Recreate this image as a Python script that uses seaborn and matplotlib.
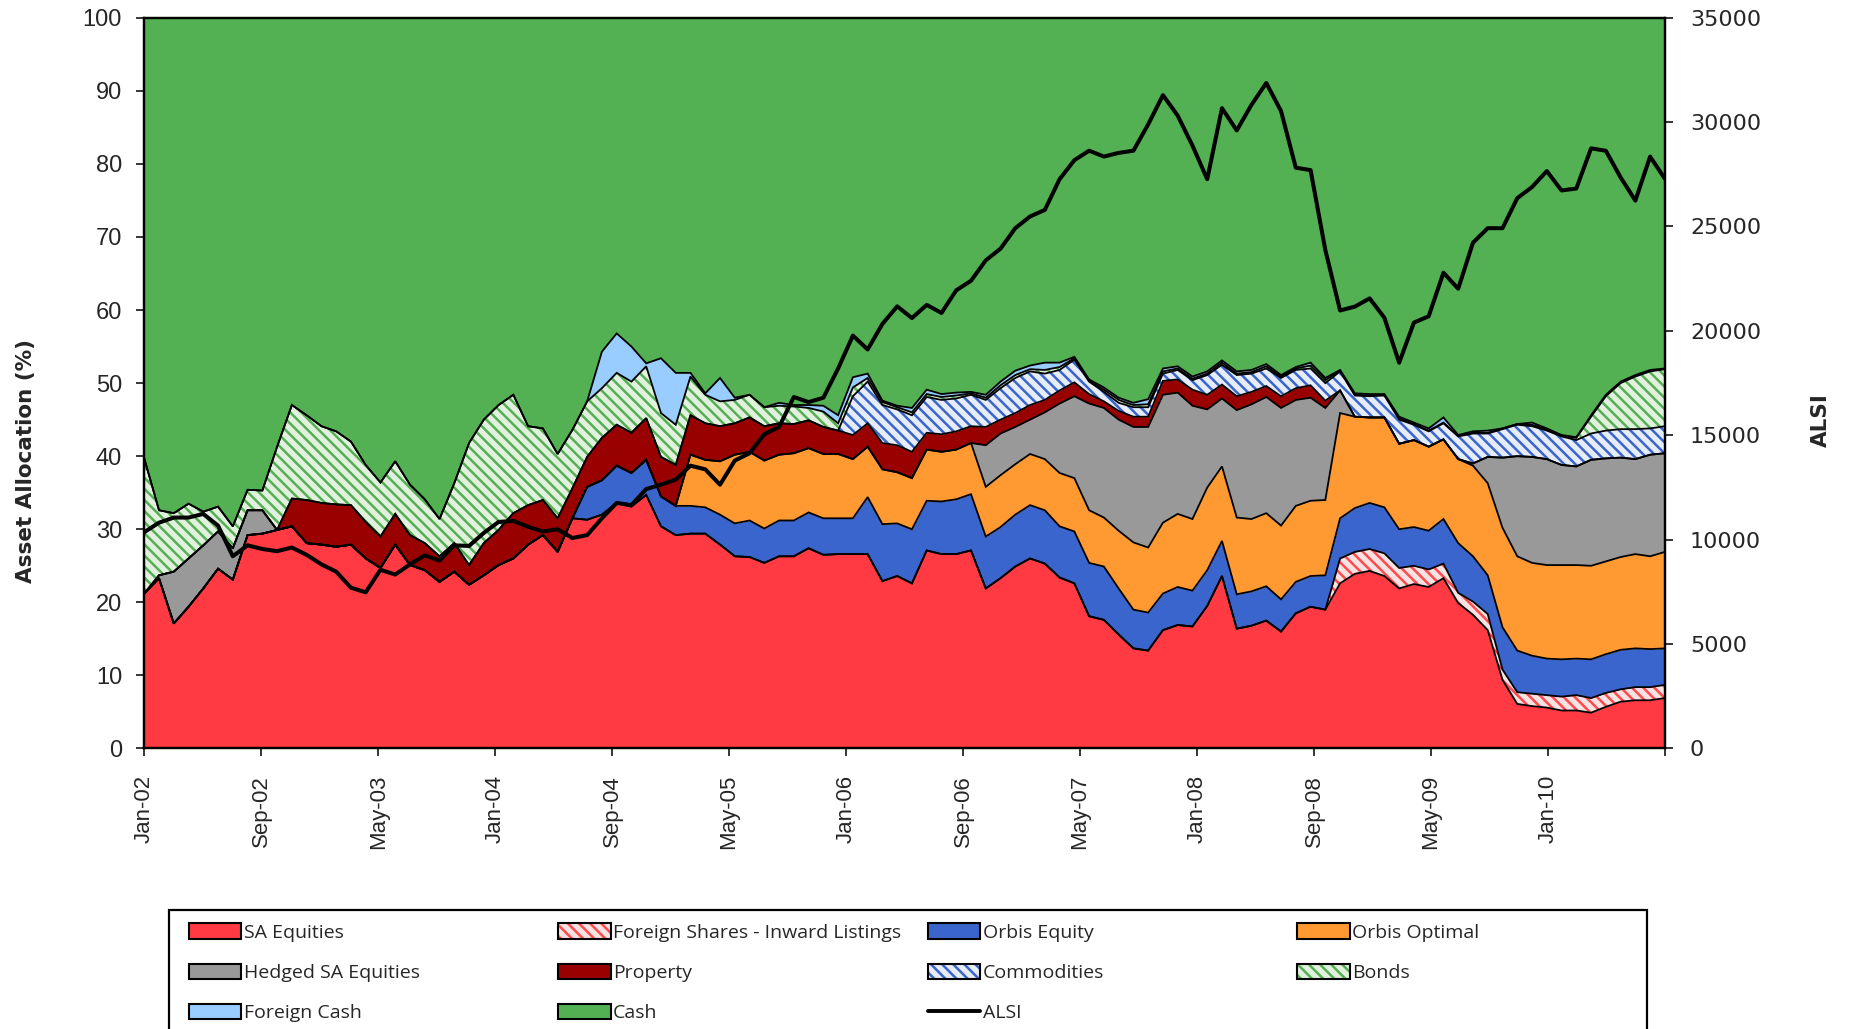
import numpy as np
import pandas as pd
import matplotlib
matplotlib.use("Agg")
import matplotlib.pyplot as plt
import matplotlib.patches as mpatches
from matplotlib.lines import Line2D
from matplotlib.legend_handler import HandlerTuple
import seaborn as sns

# ----------------------------------------------------------------------
# Data: monthly asset allocation (%) Jan-02 .. Aug-10, and the ALSI level
# ----------------------------------------------------------------------
months = pd.date_range("2002-01-01", "2010-08-01", freq="MS")

sa_equities = [
    21.2, 23.3, 17.1, 19.4, 21.9, 24.6, 23.1, 29.2, 29.4, 29.9, 30.4, 28.1, 27.9, 27.6, 27.9, 26.0,
    24.7, 27.9, 25.1, 24.4, 22.8, 24.2, 22.4, 23.7, 25.1, 26.0, 27.9, 29.2, 26.9, 31.5, 31.3, 32.0,
    33.6, 33.1, 34.7, 30.4, 29.2, 29.4, 29.4, 27.9, 26.3, 26.2, 25.4, 26.3, 26.3, 27.4, 26.5, 26.6,
    26.6, 26.6, 22.9, 23.6, 22.6, 27.1, 26.6, 26.6, 27.1, 21.9, 23.3, 24.9, 26.0, 25.3, 23.4, 22.6,
    18.1, 17.6, 15.6, 13.7, 13.4, 16.2, 16.9, 16.7, 19.5, 23.6, 16.4, 16.8, 17.5, 16.0, 18.5, 19.4,
    19.0, 22.6, 23.9, 24.3, 23.6, 21.9, 22.5, 22.1, 23.3, 19.9, 18.3, 16.2, 9.4, 6.1, 5.8, 5.6,
    5.2, 5.2, 4.9, 5.7, 6.4, 6.6, 6.6, 6.9]
foreign_shares = [0.0] * 81 + [
    3.4, 3.0, 3.0, 3.1, 2.8, 2.5, 2.4, 2.0, 1.4, 1.8, 2.2, 1.4, 1.6, 1.7, 1.7, 1.9,
    2.1, 2.0, 1.9, 1.7, 1.8, 1.8, 1.8]
orbis_equity = [0.0] * 30 + [
    4.5, 4.7, 5.1, 4.6, 4.8, 4.1, 4.0, 3.8, 3.6, 4.1, 4.5, 5.0, 4.7, 4.9, 4.9, 4.9,
    5.0, 4.9, 4.9, 7.8, 7.8, 7.2, 7.4, 6.8, 7.2, 7.5, 7.7, 7.1, 7.0, 7.1, 7.3, 7.3,
    7.0, 7.1, 7.3, 7.3, 6.3, 5.3, 5.2, 5.0, 5.2, 4.9, 4.9, 4.8, 4.7, 4.7, 4.7, 4.4,
    4.3, 4.2, 4.7, 5.5, 6.0, 6.3, 6.3, 5.3, 5.3, 5.3, 6.1, 6.8, 6.2, 5.3, 5.8, 5.7,
    5.2, 5.0, 5.1, 5.0, 5.3, 5.3, 5.4, 5.3, 5.2, 5.0]
orbis_optimal = [0.0] * 37 + [
    7.0, 6.5, 7.3, 9.4, 9.4, 9.3, 9.0, 9.2, 8.8, 8.8, 8.8, 8.1, 6.9, 7.5, 7.0, 7.0,
    7.0, 6.8, 6.8, 7.0, 6.8, 7.1, 6.9, 7.0, 7.0, 7.3, 7.3, 7.2, 6.7, 7.9, 9.2, 8.9,
    9.7, 10.0, 9.8, 11.3, 10.2, 10.5, 9.9, 10.0, 10.1, 10.4, 10.3, 10.3, 14.4, 12.5, 11.7, 12.3,
    11.7, 11.9, 11.5, 10.9, 11.5, 12.4, 12.6, 13.6, 12.9, 12.7, 12.8, 12.9, 12.8, 12.8, 12.7, 12.7,
    12.9, 12.7, 13.2]
hedged_sa_equities = [
    0.0, 0.4, 7.1, 6.6, 5.9, 5.1, 4.3, 3.4, 3.2] + [0.0] * 48 + [
    5.7, 5.7, 5.1, 4.7, 6.4, 9.5, 11.2, 14.6, 15.0, 15.2, 15.8, 16.5, 17.5, 16.6, 15.5, 10.7,
    9.3, 14.7, 15.7, 15.9, 16.1, 14.5, 14.1, 12.6, 3.1, 0.0, 0.0, 0.0, 0.0, 0.0, 0.0, 0.0,
    0.0, 0.3, 3.6, 9.6, 13.7, 14.5, 14.5, 13.7, 13.5, 14.5, 14.1, 13.6, 13.0, 13.9, 13.5]
property_ = [0.0] * 10 + [
    3.8, 5.9, 5.7, 5.8, 5.4, 5.0, 4.3, 4.2, 4.1, 3.7, 3.5, 3.9, 2.7, 4.4, 4.8, 6.2,
    5.4, 4.8, 4.6, 4.1, 4.1, 5.8, 5.6, 5.5, 5.7, 5.4, 5.6, 5.4, 5.0, 4.8, 4.3, 4.7,
    4.7, 4.3, 4.0, 3.8, 3.7, 3.2, 3.3, 3.2, 3.6, 3.7, 3.6, 2.3, 2.4, 2.5, 2.3, 2.5,
    1.9, 1.9, 2.0, 1.7, 1.8, 1.9, 1.3, 0.9, 1.2, 1.4, 1.4, 1.9, 1.8, 2.2, 2.0, 1.9,
    1.9, 1.7, 1.5, 1.6, 1.6, 1.7, 1.0] + [0.0] * 23
commodities = [0.0] * 48 + [
    5.3, 5.7, 5.2, 4.9, 5.0, 4.9, 4.7, 4.5, 4.3, 3.7, 4.3, 4.8, 4.6, 3.6, 2.8, 3.1,
    1.7, 1.3, 1.1, 1.3, 1.3, 1.0, 1.3, 1.3, 2.7, 2.7, 2.9, 2.5, 2.4, 2.5, 2.5, 2.3,
    2.4, 2.6, 2.9, 2.9, 3.0, 3.3, 2.1, 2.1, 2.2, 3.1, 4.1, 3.2, 3.9, 4.3, 4.2, 3.9,
    3.9, 3.6, 3.6, 3.8, 3.9, 4.1, 3.6, 3.7]
bonds = [
    18.5, 8.9, 8.0, 7.5, 4.6, 3.4, 3.0, 2.8, 2.7, 11.4, 12.8, 11.6, 10.5, 10.0, 8.7, 7.8,
    7.4, 7.2, 6.9, 6.0, 5.1, 8.2, 16.7, 16.9, 17.1, 16.2, 10.8, 9.8, 8.8, 8.0, 7.6, 6.8,
    7.1, 7.0, 7.1, 6.0, 5.5, 5.3, 3.9, 3.4, 3.2, 3.1, 2.6, 2.4, 2.4, 1.7, 2.1, 1.0,
    1.2, 0.5, 0.4, 0.3, 0.4, 0.4, 0.4, 0.4, 0.2, 0.3, 0.4, 0.4, 0.3, 0.5, 0.4, 0.2,
    0.1, 0.3, 0.4, 0.3, 0.4, 0.3, 0.2, 0.2, 0.2, 0.3, 0.2, 0.2, 0.3, 0.2, 0.2, 0.4,
    0.4, 0.1, 0.1, 0.1, 0.1, 0.2, 0.1, 0.1, 0.1, 0.1, 0.1, 0.1, 0.1, 0.1, 0.2, 0.2,
    0.1, 0.3, 2.3, 4.7, 6.3, 7.2, 7.8, 7.8]
foreign_cash = [0.0] * 31 + [
    5.0, 5.4, 4.8, 0.4, 7.5, 7.1, 0.5, 0.2, 3.2, 0.3, 0.0, 0.0, 0.4, 0.2, 0.4, 0.8,
    1.1, 1.4, 0.6, 0.2, 0.2, 0.6, 0.6, 0.4, 0.4, 0.2, 0.4, 0.5, 0.6, 0.5, 1.0, 0.6,
    0.2, 0.2, 0.3, 0.3, 0.3, 0.7, 0.4, 0.3, 0.3, 0.3, 0.3, 0.3, 0.3, 0.3, 0.2, 0.2,
    0.4, 0.3, 0.1, 0.2, 0.2, 0.1, 0.2, 0.2, 0.3, 0.7, 0.1, 0.2, 0.3, 0.0, 0.0, 0.3,
    0.1, 0.1, 0.1, 0.2, 0.2, 0.2, 0.2, 0.2, 0.1]
cash = [
    60.3, 67.4, 67.8, 66.5, 67.6, 66.9, 69.6, 64.6, 64.7, 58.7, 53.0, 54.4, 55.9, 56.6, 58.0, 61.2,
    63.6, 60.7, 63.9, 65.9, 68.6, 63.7, 58.2, 55.0, 53.0, 51.6, 55.9, 56.2, 59.7, 56.4, 52.5, 45.7,
    43.2, 45.0, 47.3, 46.6, 48.6, 48.6, 51.4, 49.3, 52.0, 51.6, 53.3, 52.7, 53.0, 53.0, 53.1, 54.4,
    49.2, 48.7, 52.4, 53.1, 53.4, 50.9, 51.5, 51.3, 51.2, 51.6, 49.8, 48.3, 47.6, 47.2, 47.2, 46.4,
    49.5, 50.6, 52.0, 52.7, 52.2, 48.0, 47.7, 49.1, 48.4, 46.9, 48.4, 48.2, 47.4, 48.9, 47.8, 47.2,
    49.3, 48.2, 51.4, 51.5, 51.5, 54.6, 55.4, 56.2, 54.7, 57.1, 56.6, 56.5, 56.2, 55.6, 55.4, 56.2,
    57.1, 57.4, 54.4, 51.6, 49.8, 48.9, 48.2, 48.0]
alsi = [
    10360, 10815, 11060, 11060, 11235, 10675, 9205, 9730, 9555, 9450, 9625, 9275, 8820, 8470, 7700, 7480,
    8560, 8330, 8820, 9250, 9000, 9730, 9700, 10325, 10850, 10900, 10620, 10395, 10500, 10080, 10220, 11025,
    11760, 11655, 12425, 12635, 12880, 13545, 13370, 12635, 13790, 14140, 15050, 15400, 16835, 16590, 16800, 18200,
    19775, 19110, 20335, 21175, 20615, 21245, 20860, 21945, 22400, 23380, 23940, 24920, 25480, 25795, 27265, 28175,
    28630, 28350, 28525, 28630, 29890, 31290, 30310, 28875, 27265, 30667, 29600, 30830, 31873, 30528, 27816, 27700,
    23875, 20978, 21163, 21557, 20630, 18475, 20398, 20700, 22786, 22021, 24223, 24919, 24919, 26356, 26889, 27654,
    26726, 26819, 28743, 28627, 27352, 26240, 28350, 27283]

tick_labels = ["Jan-02", "Sep-02", "May-03", "Jan-04", "Sep-04", "May-05", "Jan-06",
               "Sep-06", "May-07", "Jan-08", "Sep-08", "May-09", "Jan-10", ""]

# ----------------------------------------------------------------------
# Style
# ----------------------------------------------------------------------
sns.set_style("white")
plt.rcParams["font.family"] = ["DejaVu Sans"]
plt.rcParams["hatch.linewidth"] = 1.8
HATCH = "\\\\\\"

# name, values, face colour, hatch, hatch colour
layers = [
    ("SA Equities", sa_equities, "#FF3A42", None, None),
    ("Foreign Shares - Inward Listings", foreign_shares, "#F8E2E2", HATCH, "#FF4A50"),
    ("Orbis Equity", orbis_equity, "#3A65CC", None, None),
    ("Orbis Optimal", orbis_optimal, "#FF9A33", None, None),
    ("Hedged SA Equities", hedged_sa_equities, "#999999", None, None),
    ("Property", property_, "#990000", None, None),
    ("Commodities", commodities, "#E6ECF8", HATCH, "#3A65CC"),
    ("Bonds", bonds, "#E2F1DE", HATCH, "#55B055"),
    ("Foreign Cash", foreign_cash, "#99CCFF", None, None),
    ("Cash", cash, "#53B153", None, None),
]

fig = plt.figure(figsize=(18.54, 10.29), dpi=100)
ax = fig.add_axes([0.0778, 0.2726, 0.8202, 0.7102])

x = np.arange(len(months))
bottom = np.zeros(len(x))
tops = []
for name, vals, face, hatch, hcol in layers:
    top = bottom + np.asarray(vals, dtype=float)
    if hatch:
        plt.rcParams["hatch.color"] = hcol
        ax.fill_between(x, bottom, top, facecolor=face, edgecolor=hcol,
                        hatch=hatch, linewidth=0)
    else:
        ax.fill_between(x, bottom, top, facecolor=face, linewidth=0)
    tops.append(top)
    bottom = top

# black borders between the stacked areas (Excel style)
for top in tops[:-1]:
    ax.plot(x, top, color="black", lw=1.3, solid_joinstyle="miter")

ax.set_xlim(0, len(x) - 1)
ax.set_ylim(0, 100)
ax.set_yticks(range(0, 101, 10))
ax.set_yticklabels([str(v) for v in range(0, 101, 10)], family="Liberation Sans", fontsize=17)
ax.set_xticks(np.linspace(0, len(x) - 1, len(tick_labels)))
ax.set_xticklabels(tick_labels, rotation=90, family="Liberation Sans", fontsize=16)
ax.tick_params(axis="y", direction="out", length=6, width=1.3, left=True, pad=10)
ax.tick_params(axis="x", direction="out", length=6, width=1.3, bottom=True, pad=13)
for sp in ax.spines.values():
    sp.set_color("black")
    sp.set_linewidth(1.6)
ax.grid(False)

# ALSI on the secondary axis
ax2 = ax.twinx()
sns.lineplot(x=x, y=alsi, ax=ax2, color="black", lw=2.9, legend=False)
ax2.set_ylim(0, 35000)
ax2.set_yticks(range(0, 35001, 5000))
ax2.tick_params(axis="y", labelsize=16, direction="out", length=6, width=1.3, right=True, pad=12)
ax2.set_ylabel("")
for sp in ax2.spines.values():
    sp.set_color("black")
    sp.set_linewidth(1.6)
ax2.grid(False)

fig.text(0.014, 0.552, "Asset Allocation (%)", rotation=90, ha="center", va="center",
         fontsize=15.5, fontweight="bold")
fig.text(0.982, 0.592, "ALSI", rotation=90, ha="center", va="center",
         fontsize=15.5, fontweight="bold")

# ----------------------------------------------------------------------
# Legend: framed box under the plot, four evenly spaced columns
# ----------------------------------------------------------------------
def handle_for(face, hatch, hcol):
    if hatch:
        return (mpatches.Patch(facecolor=face, edgecolor=hcol, hatch=hatch, lw=0),
                mpatches.Patch(facecolor="none", edgecolor="black", lw=1.5))
    return mpatches.Patch(facecolor=face, edgecolor="black", lw=1.5)

entries = {name: handle_for(face, hatch, hcol) for name, _, face, hatch, hcol in layers}
entries["ALSI"] = Line2D([0], [0], color="black", lw=2.8)

columns = [
    ["SA Equities", "Hedged SA Equities", "Foreign Cash"],
    ["Foreign Shares - Inward Listings", "Property", "Cash"],
    ["Orbis Equity", "Commodities", "ALSI"],
    ["Orbis Optimal", "Bonds"],
]
col_x = [0.1019, 0.3010, 0.5005, 0.6996]

frame = mpatches.Rectangle((0.0912, -0.2), 0.797, 0.3152, transform=fig.transFigure,
                           facecolor="white", edgecolor="black", lw=1.6, clip_on=False)
fig.patches.append(frame)

for cx, names in zip(col_x, columns):
    fig.legend([entries[n] for n in names], names, loc="upper left",
               bbox_to_anchor=(cx, 0.1026), frameon=False, borderpad=0,
               borderaxespad=0, handlelength=2.7, handleheight=0.85,
               handletextpad=0.12, labelspacing=1.12,
               prop={"family": "Open Sans", "size": 14},
               handler_map={tuple: HandlerTuple(ndivide=1)})

fig.savefig("out.png", dpi=100)
